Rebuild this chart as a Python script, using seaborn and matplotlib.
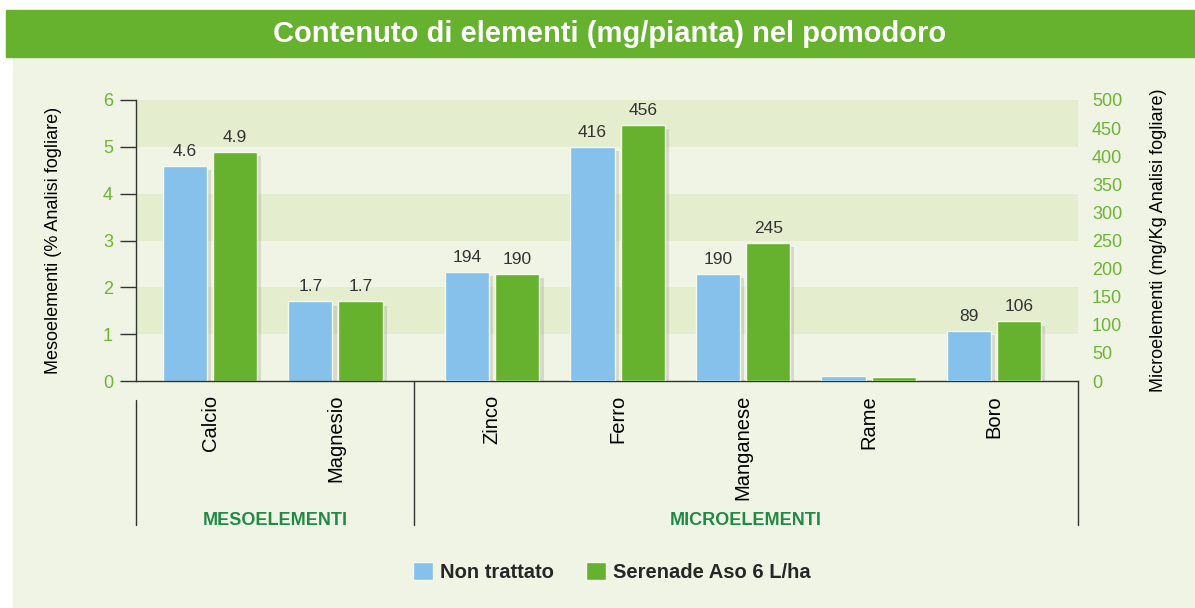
import numpy as np
import pandas as pd
import seaborn as sns
import matplotlib.pyplot as plt
import matplotlib.patheffects as pe
import matplotlib.transforms as mtransforms
from matplotlib.patches import Rectangle, Patch

# data
meso = ["Calcio", "Magnesio"]
micro = ["Zinco", "Ferro", "Manganese", "Rame", "Boro"]
series = ["Non trattato", "Serenade Aso 6 L/ha"]
meso_non = [4.6, 1.7]
meso_ser = [4.9, 1.7]
micro_non = [194, 416, 190, 9, 89]
micro_ser = [190, 456, 245, 8, 106]
meso_yticks = [0, 1, 2, 3, 4, 5, 6]
micro_yticks = [0, 50, 100, 150, 200, 250, 300, 350, 400, 450, 500]

BLUE = "#85c1ea"
GREEN = "#66b22e"
CREAM = "#f0f4e4"
BAND = "#e5edcf"
TICKGREEN = "#6cb533"
DARKGREEN = "#1f8a43"

sns.set_theme(style="white")
plt.rcParams["font.family"] = ["Liberation Sans", "DejaVu Sans"]

elements = meso + micro
# a bit of extra room between the two groups
pos = np.arange(len(elements)) + np.where(np.isin(elements, micro), 0.25, 0.0)
pos_of = dict(zip(elements, pos))

rows = []
for el, a, b in zip(meso, meso_non, meso_ser):
    rows.append([el, pos_of[el], series[0], a, "meso"])
    rows.append([el, pos_of[el], series[1], b, "meso"])
for el, a, b in zip(micro, micro_non, micro_ser):
    rows.append([el, pos_of[el], series[0], a, "micro"])
    rows.append([el, pos_of[el], series[1], b, "micro"])
df = pd.DataFrame(rows, columns=["elemento", "pos", "serie", "valore", "gruppo"])

fig = plt.figure(figsize=(11.95, 6.08), dpi=100)
fig.patch.set_facecolor("white")
W, H = 1195, 608
fig.add_artist(Rectangle((13 / W, 0), 1, (H - 10) / H, transform=fig.transFigure,
                         color=CREAM, zorder=-10))
fig.add_artist(Rectangle((6 / W, (H - 57) / H), 1, 47 / H, transform=fig.transFigure,
                         color=GREEN, zorder=-9))
fig.text(610 / W, (H - 34) / H, "Contenuto di elementi (mg/pianta) nel pomodoro",
         color="white", fontsize=21, fontweight="bold", ha="center", va="center")

ax = fig.add_axes([136 / W, 227 / H, 942 / W, 281 / H])
ax.set_facecolor(CREAM)
for lo in (1, 3, 5):
    ax.axhspan(lo, lo + 1, color=BAND, zorder=0, lw=0)
ax2 = ax.twinx()

common = dict(x="pos", y="valore", hue="serie", hue_order=series,
              palette=[BLUE, GREEN], saturation=1, native_scale=True, width=0.8, gap=0.12,
              errorbar=None, legend=False, edgecolor="#f6f9ee", linewidth=1)
sns.barplot(data=df[df.gruppo == "meso"], ax=ax, **common)
sns.barplot(data=df[df.gruppo == "micro"], ax=ax2, **common)

shadow = [pe.SimplePatchShadow(offset=(3, -3), shadow_rgbFace="#6b6b6b", alpha=0.2), pe.Normal()]
for a in (ax, ax2):
    for c in a.containers:
        for bar in c:
            bar.set_path_effects(shadow)

meso_lab = [[f"{v:.1f}" for v in meso_non], [f"{v:.1f}" for v in meso_ser]]
micro_lab = [[("" if el == "Rame" else str(v)) for el, v in zip(micro, micro_non)],
             [("" if el == "Rame" else str(v)) for el, v in zip(micro, micro_ser)]]
for c, lab in zip(ax.containers, meso_lab):
    ax.bar_label(c, labels=lab, padding=5, fontsize=12.5, color="#333333")
for c, lab in zip(ax2.containers, micro_lab):
    ax2.bar_label(c, labels=lab, padding=5, fontsize=12.5, color="#333333")

ax.set_xlim(-0.59, 6.92)
ax.set_ylim(0, 6)
ax2.set_ylim(0, 500)
ax.set_yticks(meso_yticks)
ax2.set_yticks(micro_yticks)
ax.set_xticks(pos)
ax.set_xticklabels(elements, rotation=90, fontsize=14.5, color="black")
ax.tick_params(axis="x", length=0, pad=10)
ax.tick_params(axis="y", direction="out", length=11.5, width=1, color="#333333",
               labelcolor=TICKGREEN, labelsize=13, pad=5, left=True)
ax2.tick_params(axis="y", length=0, labelcolor=TICKGREEN, labelsize=13, pad=10)
ax.set_xlabel("")
ax2.set_xlabel("")
ax.set_ylabel("Mesoelementi (% Analisi fogliare)", fontsize=13, color="black")
ax2.set_ylabel("Microelementi (mg/Kg Analisi fogliare)", fontsize=13, color="black")
ax.yaxis.set_label_coords(-0.0786, 0.5)
ax2.yaxis.set_label_coords(1.0764, 0.5)

for s in ("top", "right"):
    ax.spines[s].set_visible(False)
for s in ax2.spines.values():
    s.set_visible(False)
for s in ("left", "bottom"):
    ax.spines[s].set_color("#333333")
    ax.spines[s].set_linewidth(1)

# group separators below the axis
blend = mtransforms.blended_transform_factory(ax.transData, ax.transAxes)
mid = (pos_of[meso[-1]] + pos_of[micro[0]]) / 2
xl, xr = ax.get_xlim()
y_bot = -0.5125
ax.plot([xl, xl], [-0.0676, y_bot], transform=blend, color="#333333", lw=1, clip_on=False)
ax.plot([mid, mid], [0, y_bot], transform=blend, color="#333333", lw=1, clip_on=False)
ax.plot([xr, xr], [0, y_bot], transform=blend, color="#333333", lw=1, clip_on=False)
ax.text((xl + mid) / 2, -0.495, "MESOELEMENTI", transform=blend, ha="center", va="center",
        fontsize=13, fontweight="bold", color=DARKGREEN)
ax.text((mid + xr) / 2, -0.495, "MICROELEMENTI", transform=blend, ha="center", va="center",
        fontsize=13, fontweight="bold", color=DARKGREEN)

handles = [Patch(facecolor=BLUE, edgecolor="#f6f9ee"), Patch(facecolor=GREEN, edgecolor="#f6f9ee")]
fig.legend(handles, series, loc="center", bbox_to_anchor=(612 / W, 36 / H), ncol=2,
           frameon=False, handlelength=1.0, handleheight=1.0, handletextpad=0.35,
           columnspacing=1.6, prop={"size": 14.5, "weight": "bold"})

fig.savefig("out.png", dpi=100, facecolor=fig.get_facecolor())
